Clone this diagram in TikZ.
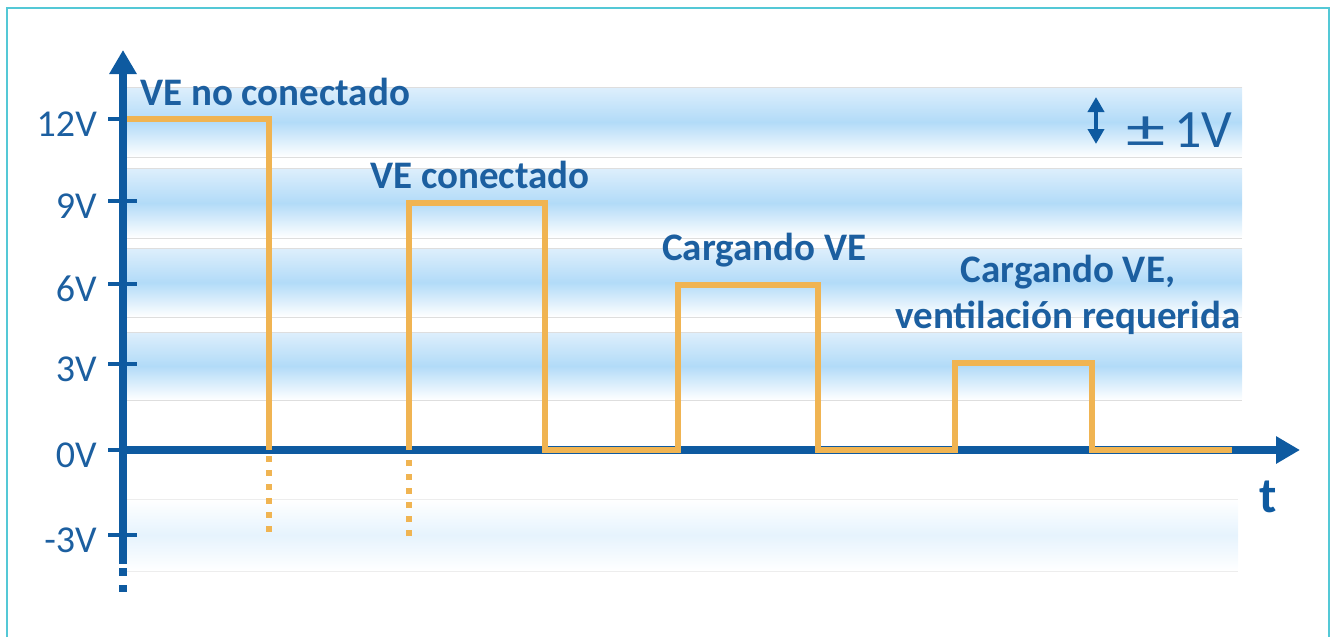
\documentclass[tikz,border=0pt]{standalone}
\usepackage{fontspec}
\setmainfont{Carlito}
\usetikzlibrary{arrows.meta}

\definecolor{axisblue}{RGB}{14,90,160}
\definecolor{textblue}{RGB}{28,95,160}
\definecolor{pulse}{RGB}{240,180,82}
\definecolor{bandtop}{RGB}{222,239,252}
\definecolor{bandmid}{RGB}{178,219,248}
\definecolor{faintmid}{RGB}{230,243,253}
\definecolor{framecol}{RGB}{84,200,214}

\begin{document}
\begin{tikzpicture}[
    x=1pt, y=-1pt,
    axis/.style={draw=axisblue, line width=8pt, -{Triangle[length=24pt, width=26pt]}},
    tick/.style={draw=axisblue, line width=4pt},
    signal/.style={draw=pulse, line width=6pt},
    gone/.style={signal, dash pattern=on 6pt off 8pt},
    band/.style={top color=bandtop, bottom color=white, middle color=bandmid},
    faint band/.style={top color=white, bottom color=white, middle color=faintmid},
    rim/.style={draw=black!13, line width=1pt},
    level label/.style={anchor=base east, inner sep=0pt, text=textblue, font=\fontsize{38}{44}\selectfont},
    state/.style={anchor=base west, inner sep=0pt, text=textblue, font=\fontsize{39}{46}\selectfont\bfseries}
  ]

  \useasboundingbox (0,0) rectangle (1335,637);
  \draw[framecol, line width=2pt] (7,637) -- (7,8) -- (1329,8) -- (1329,637);

  % tolerance bands
  \foreach \t/\b in {87/157, 168/238, 248/317, 332/400}{
    \shade[band] (127,\t) rectangle (1242,\b);
    \draw[rim] (127,\t) -- (1242,\t);
    \draw[rim] (127,\b) -- (1242,\b);
  }
  \shade[faint band] (127,499) rectangle (1238,571);
  \draw[rim, draw=black!7] (127,499) -- (1238,499);
  \draw[rim, draw=black!7] (127,571) -- (1238,571);

  % axes
  \draw[axis] (123,564) -- (123,50);
  \draw[draw=axisblue, line width=8pt, dash pattern=on 8pt off 9pt] (123,568) -- (123,592);
  \draw[axis] (119,450) -- (1300,450);
  \node[anchor=center, inner sep=0pt, text=axisblue, font=\fontsize{50}{56}\selectfont\bfseries] (time) at (1268,497) {t};

  \foreach \v/\y in {12/119, 9/201, 6/284, 3/364, 0/450, -3/535}{
    \draw[tick] (108,\y) -- (137,\y);
    \node[level label] (lvl\v) at (97,\y+17) {\v V};
  }

  % pilot signal
  \draw[signal] (127,119) -- (269,119) -- (269,450);
  \draw[gone] (269,456) -- (269,536);
  \draw[gone] (409,536) -- (409,456);
  \draw[signal] (409,450) -- (409,203) -- (545,203) -- (545,450) -- (678,450)
    -- (678,285) -- (818,285) -- (818,450) -- (955,450)
    -- (955,363) -- (1092,363) -- (1092,450) -- (1232,450);

  \node[state] (unplugged) at (140,105) {VE no conectado};
  \node[state] (plugged) at (370,188) {VE conectado};
  \node[state] (charging) at (662,260) {Cargando VE};
  \node[state, anchor=base, align=center] (venting) at (1068,328) {Cargando VE,\\ventilación requerida};

  \node[anchor=base west, inner sep=0pt, text=textblue, font=\fontsize{54}{60}\selectfont] (tolerance) at (1126,147) {\scalebox{1.45}[1]{±}\hspace{9pt}1V};
  \coordinate (tolup) at (1096,97);
  \coordinate (toldown) at (1096,144);
  \draw[axisblue, line width=4pt, {Triangle[length=15pt, width=16pt]}-{Triangle[length=15pt, width=16pt]}] (tolup) -- (toldown);

\end{tikzpicture}
\end{document}
